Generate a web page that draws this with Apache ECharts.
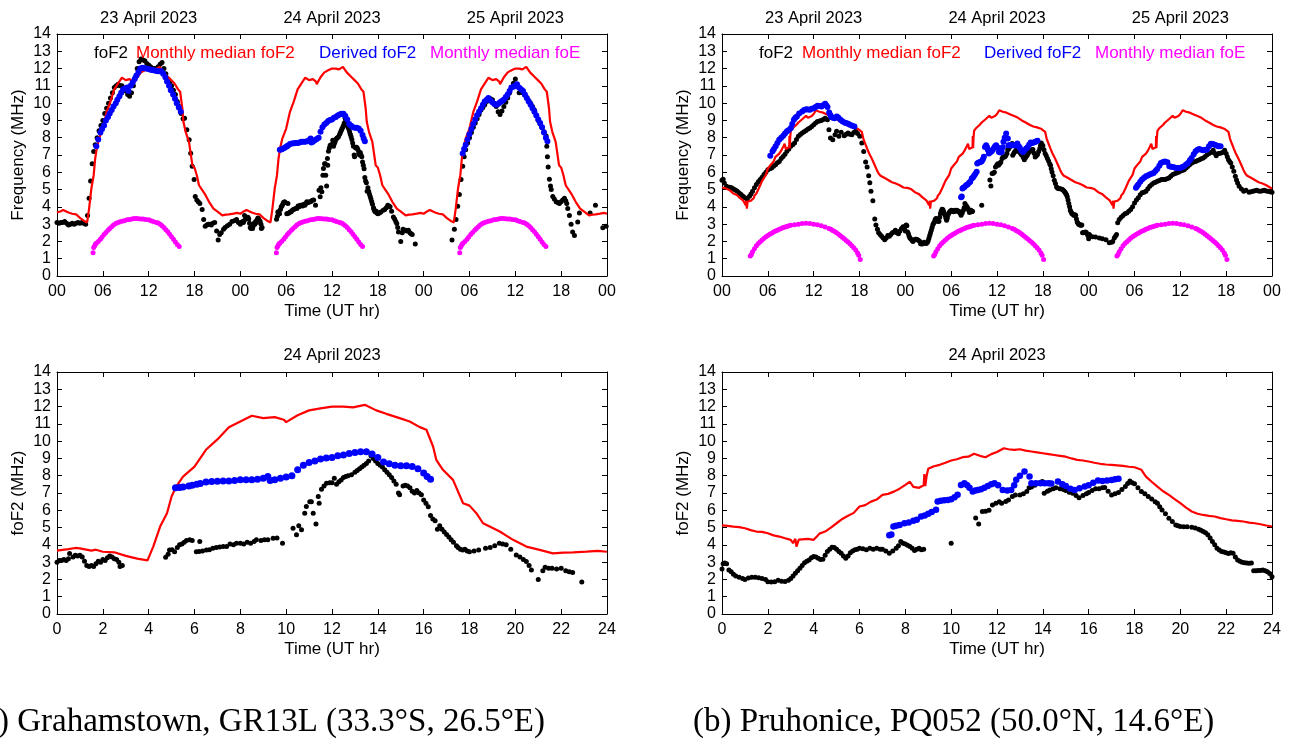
<!DOCTYPE html>
<html>
<head>
<meta charset="utf-8">
<script src="https://cdn.jsdelivr.net/npm/echarts@6/dist/echarts.min.js"></script>
<style>
html,body{margin:0;padding:0;background:#fff;}
#chart{width:1291px;height:742px;}
</style>
</head>
<body>
<div id="chart"></div>
<script>
// ---------------- DATA (hours UT, MHz) ----------------
const legendNames = ['foF2', 'Monthly median foF2', 'Derived foF2', 'Monthly median foE'];
const dayTitles = ['23 April 2023', '24 April 2023', '25 April 2023'];
const singleDayTitle = '24 April 2023';
const captions = ['(a) Grahamstown, GR13L (33.3°S, 26.5°E)', '(b) Pruhonice, PQ052 (50.0°N, 14.6°E)'];
const threeDayTicks = ['00', '06', '12', '18'];

// ---- Grahamstown GR13L ----
const grMedianFoF2 = [[0,3.67],[0.5,3.75],[0.8,3.82],[1,3.8],[1.5,3.67],[1.7,3.72],[2,3.6],[2.5,3.57],[3,3.36],[3.5,3.2],[3.95,3.1],[4.2,3.9],[4.5,5.06],[4.8,5.83],[5,6.8],[5.2,7.37],[5.5,7.95],[6,8.53],[6.5,9.5],[7,10.1],[7.5,10.8],[8,11.14],[8.5,11.47],[9,11.33],[9.5,11.39],[9.9,11.24],[10,11.1],[10.5,11.5],[11,11.78],[11.5,11.9],[12,12.0],[12.5,12.0],[12.92,11.95],[13.43,12.1],[13.93,11.78],[14.37,11.58],[14.95,11.33],[15.39,11.14],[15.83,10.81],[16.12,10.66],[16.41,9.69],[16.55,8.92],[16.84,8.34],[17.28,7.76],[17.72,6.41],[18.0,6.27],[18.3,5.83],[18.59,5.25],[18.88,5.06],[19.32,4.77],[19.9,4.29],[20.48,3.9],[21.06,3.71],[21.64,3.51],[22.1,3.55],[22.52,3.57],[23.1,3.61],[23.6,3.65],[24,3.6]];
const grFoE = [[4.72,1.35],[4.8,1.65],[4.93,1.75],[5.05,1.85],[5.15,1.9],[5.4,2.0],[5.68,2.12],[5.9,2.25],[6.16,2.4],[6.4,2.52],[6.68,2.65],[6.9,2.75],[7.16,2.85],[7.4,2.95],[7.69,3.03],[7.9,3.08],[8.17,3.12],[8.5,3.17],[8.8,3.2],[9.17,3.25],[9.5,3.27],[9.8,3.3],[10.1,3.32],[10.4,3.32],[10.7,3.31],[11.0,3.3],[11.3,3.3],[11.6,3.27],[12.0,3.25],[12.3,3.2],[12.6,3.15],[13.0,3.1],[13.25,3.06],[13.5,3.0],[13.75,2.9],[14.0,2.8],[14.25,2.68],[14.5,2.56],[14.75,2.42],[15.0,2.27],[15.25,2.12],[15.5,1.97],[15.75,1.82],[16.0,1.7]];
const grFoF2_23 = [[0,3.1],[0.25,3.05],[0.5,3.1],[0.75,3.1],[1,3.15],[1.25,3.05],[1.5,2.95],[1.75,3.0],[2,3.05],[2.25,3.0],[2.5,3.05],[2.75,3.1],[3,3.05],[3.25,3.1],[3.5,3.05],[3.75,3.0],[4,3.5],[4.2,4.5],[4.4,5.5],[4.6,6.5],[4.8,7.2],[5,7.6],[5.25,8.0],[5.5,8.4],[5.75,8.7],[6,9.0],[6.25,9.4],[6.5,9.7],[6.75,10.0],[7,10.3],[7.25,10.6],[7.5,10.9],[7.75,11.0],[8,11.1],[8.25,11.0],[8.5,11.0],[8.75,10.8],[9,10.7],[9.25,10.5],[9.5,10.4],[9.75,10.6],[10,11.0],[10.25,11.5],[10.5,12.0],[10.75,12.4],[11,12.55],[11.25,12.5],[11.5,12.45],[11.75,12.3],[12,12.2],[12.25,12.1],[12.5,12.0],[12.75,12.0],[13,12.0],[13.25,12.1],[13.5,12.25],[13.75,12.35],[14,12.0],[14.25,11.7],[14.5,11.4],[14.75,11.2],[15,11.0],[15.25,10.75],[15.5,10.5],[15.75,10.1],[16,9.8],[16.25,9.4],[16.5,9.1],[16.7,9.13],[17.0,8.46],[17.3,7.88],[17.5,7.1],[17.7,6.35],[17.95,5.58],[18.1,4.6],[18.3,4.4],[18.5,4.3],[18.7,4.2],[19.0,3.85],[19.2,3.27],[19.4,2.88],[19.6,2.95],[19.8,3.0],[20.0,3.0],[20.2,2.95],[20.4,3.05],[20.65,3.1],[20.9,2.6],[21.1,2.08],[21.3,2.4],[21.5,2.5],[21.8,2.7],[22.0,2.8],[22.3,2.9],[22.6,3.0],[22.9,3.15],[23.2,3.2],[23.5,3.27],[23.75,3.1]];
const grFoF2_24 = [[0,3.0],[0.1,3.1],[0.2,3.1],[0.3,3.15],[0.4,3.1],[0.5,3.2],[0.55,3.5],[0.7,3.3],[0.8,3.4],[0.9,3.35],[1.0,3.4],[1.1,3.3],[1.2,3.05],[1.3,2.8],[1.4,2.75],[1.5,2.8],[1.6,2.75],[1.7,2.9],[1.8,3.05],[1.9,3.0],[2.0,3.15],[2.1,3.1],[2.2,3.25],[2.3,3.35],[2.4,3.3],[2.5,3.2],[2.6,3.15],[2.7,3.0],[2.75,2.75],[2.85,2.8],[4.74,3.28],[4.85,3.45],[4.91,3.7],[5.02,3.72],[5.13,3.6],[5.25,3.85],[5.35,4.0],[5.45,4.05],[5.55,4.15],[5.65,4.25],[5.79,4.29],[5.9,4.25],[6.23,4.19],[6.08,3.6],[6.2,3.62],[6.35,3.65],[6.52,3.7],[6.65,3.72],[6.8,3.8],[6.95,3.85],[7.1,3.88],[7.25,3.9],[7.4,3.9],[7.55,4.05],[7.7,4.0],[7.83,4.1],[8.0,4.1],[8.15,4.05],[8.3,4.15],[8.45,4.1],[8.6,4.2],[8.7,4.29],[8.9,4.25],[9.05,4.3],[9.2,4.3],[9.43,4.38],[9.6,4.4],[9.84,4.09],[10.3,4.96],[10.45,4.58],[10.55,5.1],[10.67,4.87],[10.81,5.83],[10.88,6.22],[11.03,6.5],[11.1,6.5],[11.18,5.83],[11.3,5.21],[11.4,6.8],[11.44,6.41],[11.54,7.22],[11.65,7.4],[11.76,7.57],[11.9,7.6],[12.0,7.6],[12.1,7.85],[12.2,7.5],[12.3,7.65],[12.4,7.75],[12.5,7.9],[12.6,7.95],[12.7,8.0],[12.85,8.05],[13.0,8.2],[13.1,8.3],[13.2,8.4],[13.3,8.5],[13.4,8.6],[13.5,8.7],[13.6,8.85],[13.7,9.15],[13.8,9.0],[13.9,8.85],[14.0,8.7],[14.1,8.6],[14.2,8.5],[14.3,8.35],[14.4,8.2],[14.5,8.05],[14.6,7.9],[14.7,7.7],[14.8,7.5],[14.9,7.0],[14.95,6.9],[15.1,7.4],[15.2,7.45],[15.3,7.4],[15.4,7.3],[15.5,7.1],[15.6,7.0],[15.7,7.15],[15.8,7.0],[15.9,6.9],[16.0,6.6],[16.1,6.4],[16.2,6.2],[16.3,5.7],[16.4,5.5],[16.5,5.4],[16.6,4.9],[16.7,5.1],[16.8,4.9],[16.9,4.75],[17.0,4.6],[17.1,4.45],[17.2,4.3],[17.3,4.15],[17.43,3.95],[17.5,3.85],[17.6,3.75],[17.7,3.7],[17.8,3.75],[17.9,3.65],[18.0,3.6],[18.2,3.65],[18.4,3.7],[18.7,3.8],[18.9,3.85],[19.1,3.95],[19.3,4.1],[19.45,4.05],[19.6,4.0],[19.8,3.75],[20.04,3.42],[20.2,3.3],[20.35,3.15],[20.48,3.03],[20.6,2.8],[20.7,2.55],[21.0,2.0],[21.2,2.5],[21.3,2.7],[21.45,2.65],[21.6,2.65],[21.8,2.6],[22.0,2.65],[22.2,2.5],[22.35,2.45],[22.5,2.4],[22.9,1.85]];
const grFoF2_25 = [[3.71,2.08],[4.02,2.7],[4.24,3.27],[4.45,4.04],[4.67,4.71],[4.89,5.58],[5.11,6.35],[5.3,6.9],[5.5,7.3],[5.75,7.7],[6.0,8.0],[6.25,8.3],[6.5,8.6],[6.75,8.85],[7.0,9.1],[7.25,9.35],[7.5,9.6],[7.75,9.75],[8.0,9.9],[8.25,10.1],[8.5,10.2],[8.75,10.25],[9.0,10.2],[9.25,10.0],[9.5,9.8],[9.75,9.5],[10.0,9.35],[10.25,9.55],[10.5,9.8],[10.75,10.05],[11.0,10.3],[11.25,10.6],[11.5,10.9],[11.75,11.15],[12.0,11.4],[12.25,11.1],[12.5,10.6],[12.75,10.65],[13.0,10.6],[13.25,10.45],[13.5,10.3],[13.75,10.15],[14.0,10.0],[14.25,9.8],[14.5,9.6],[14.75,9.3],[15.0,9.0],[15.25,8.8],[15.5,8.6],[15.75,8.35],[16.03,8.1],[16.12,7.5],[16.2,6.9],[16.3,6.3],[16.46,5.6],[16.6,5.2],[16.7,5.0],[16.9,4.6],[17.1,4.45],[17.34,4.3],[17.55,4.25],[17.77,4.2],[17.99,4.3],[18.2,4.4],[18.43,4.5],[18.6,4.35],[18.73,4.2],[18.86,3.9],[19.08,3.5],[19.3,3.0],[19.5,2.55],[19.74,2.35],[20.17,3.12],[20.39,3.65],[21.79,3.65],[22.49,4.1],[23.45,2.79],[23.89,2.88]];
const grDerived_23 = [[5.15,7.5],[5.4,7.9],[5.68,8.3],[5.9,8.5],[6.16,8.7],[6.4,9.0],[6.68,9.2],[6.9,9.4],[7.16,9.6],[7.4,9.8],[7.69,10.0],[7.9,10.2],[8.17,10.4],[8.4,10.6],[8.65,10.8],[8.9,10.85],[9.17,10.9],[9.35,10.7],[9.65,11.0],[9.9,11.2],[10.17,11.4],[10.4,11.6],[10.66,11.8],[10.9,12.0],[11.18,12.05],[11.45,12.02],[11.7,12.0],[11.95,11.97],[12.18,11.95],[12.4,11.92],[12.66,11.9],[12.9,11.87],[13.19,11.85],[13.45,11.85],[13.67,11.85],[13.9,11.7],[14.19,11.5],[14.4,11.25],[14.67,11.0],[14.9,10.75],[15.2,10.5],[15.45,10.25],[15.68,10.0],[15.95,9.75],[16.2,9.5]];
const grDerived_24 = [[5.17,7.3],[5.35,7.32],[5.5,7.35],[5.75,7.4],[5.9,7.45],[6.1,7.5],[6.25,7.55],[6.5,7.64],[6.75,7.67],[7,7.68],[7.25,7.7],[7.5,7.7],[7.75,7.72],[8,7.76],[8.25,7.76],[8.5,7.76],[8.75,7.8],[9,7.86],[9.2,7.95],[9.3,7.72],[9.5,7.76],[9.75,7.85],[10,7.92],[10.25,8.0],[10.5,8.35],[10.75,8.6],[11,8.76],[11.25,8.85],[11.5,8.96],[11.75,9.03],[12,9.05],[12.25,9.15],[12.5,9.2],[12.75,9.28],[13,9.34],[13.25,9.38],[13.5,9.38],[13.75,9.25],[14,9.05],[14.25,8.8],[14.5,8.69],[14.75,8.6],[15,8.57],[15.25,8.57],[15.5,8.53],[15.75,8.4],[16,8.15],[16.15,7.95],[16.3,7.8]];
const grDerived_25 = [[5.11,7.08],[5.3,7.35],[5.5,7.6],[5.75,7.9],[5.98,8.2],[6.25,8.5],[6.5,8.8],[6.75,9.05],[6.99,9.3],[7.25,9.5],[7.51,9.7],[7.75,9.9],[7.99,10.1],[8.25,10.2],[8.47,10.3],[8.75,10.15],[9.0,10.05],[9.25,9.95],[9.48,9.9],[9.75,9.95],[10.0,10.05],[10.25,10.12],[10.48,10.2],[10.75,10.35],[11.0,10.5],[11.25,10.7],[11.48,10.9],[11.75,10.95],[12.0,11.0],[12.2,11.1],[12.49,10.9],[12.75,10.8],[13.01,10.7],[13.25,10.5],[13.5,10.3],[13.75,10.1],[14.0,9.9],[14.25,9.7],[14.5,9.5],[14.75,9.28],[15.0,9.05],[15.25,8.85],[15.5,8.6],[15.75,8.3],[16.0,8.0],[16.2,7.8]];

// ---- Pruhonice PQ052 ----
const pqMedianFoF2 = [[0,5.13],[0.25,5.1],[0.5,5.06],[0.75,5.03],[1,4.96],[1.25,4.85],[1.5,4.77],[1.75,4.75],[2,4.67],[2.25,4.55],[2.5,4.48],[2.75,4.38],[3,4.29],[3.1,4.1],[3.2,4.35],[3.25,3.9],[3.35,4.3],[3.5,4.32],[3.75,4.35],[4,4.29],[4.15,4.5],[4.25,4.65],[4.5,4.77],[4.75,5.0],[5,5.25],[5.25,5.5],[5.5,5.68],[5.75,5.85],[6,6.22],[6.25,6.3],[6.5,6.5],[6.75,6.62],[7,6.89],[7.25,6.95],[7.5,7.08],[7.75,7.25],[8,7.47],[8.2,7.65],[8.35,7.35],[8.6,7.3],[8.8,7.45],[8.83,8.1],[8.87,7.4],[8.93,8.0],[9,8.4],[9.25,8.55],[9.5,8.63],[9.75,8.75],[10,8.88],[10.25,8.95],[10.5,9.07],[10.75,9.1],[11,9.27],[11.25,9.15],[11.5,9.07],[11.75,9.25],[12,9.37],[12.3,9.59],[12.5,9.53],[12.75,9.5],[13,9.53],[13.25,9.45],[13.5,9.4],[13.75,9.35],[14,9.3],[14.25,9.25],[14.5,9.2],[14.75,9.15],[15,9.1],[15.25,9.0],[15.5,8.92],[15.75,8.88],[16,8.82],[16.25,8.75],[16.5,8.69],[16.75,8.65],[17,8.63],[17.25,8.6],[17.5,8.57],[17.75,8.52],[18,8.49],[18.3,8.34],[18.5,7.95],[18.75,7.65],[19,7.37],[19.25,7.1],[19.5,6.89],[19.75,6.65],[20,6.41],[20.25,6.15],[20.5,5.93],[20.75,5.8],[21,5.73],[21.25,5.68],[21.5,5.64],[21.75,5.55],[22,5.48],[22.25,5.42],[22.5,5.39],[22.75,5.35],[23,5.29],[23.25,5.25],[23.5,5.19],[23.75,5.12],[24,5.06]];
const pqFoE = [[3.7,1.15],[3.85,1.25],[4.0,1.4],[4.25,1.58],[4.5,1.75],[4.75,1.88],[5.0,1.98],[5.25,2.08],[5.5,2.18],[5.75,2.27],[6.0,2.35],[6.25,2.42],[6.5,2.48],[6.75,2.54],[7.0,2.6],[7.25,2.65],[7.5,2.7],[7.75,2.75],[8.0,2.8],[8.25,2.84],[8.5,2.87],[8.75,2.9],[9.0,2.93],[9.5,2.97],[10.0,3.0],[10.5,3.03],[11.0,3.05],[11.5,3.03],[12.0,3.0],[12.5,2.96],[13.0,2.9],[13.5,2.83],[14.0,2.75],[14.25,2.7],[14.5,2.63],[14.75,2.57],[15.0,2.5],[15.25,2.42],[15.5,2.33],[15.75,2.24],[16.0,2.15],[16.25,2.06],[16.5,1.96],[16.75,1.86],[17.0,1.75],[17.25,1.63],[17.5,1.5],[17.75,1.33],[17.9,1.2],[18.1,0.95]];
const pqFoF2_23 = [[0,5.54],[0.15,5.6],[0.3,5.38],[0.6,5.19],[1,5.13],[1.25,5.1],[1.5,5.04],[1.75,4.97],[2,4.9],[2.25,4.8],[2.5,4.71],[2.75,4.62],[3,4.52],[3.3,4.42],[3.6,4.62],[3.8,4.75],[4,4.9],[4.25,5.1],[4.5,5.29],[4.75,5.45],[5,5.58],[5.25,5.72],[5.5,5.87],[5.75,6.0],[6,6.15],[6.25,6.2],[6.5,6.25],[6.75,6.35],[7,6.44],[7.25,6.55],[7.5,6.63],[7.75,6.8],[8,6.92],[8.25,7.05],[8.5,7.21],[8.75,7.35],[9,7.5],[9.25,7.6],[9.5,7.69],[9.75,7.9],[10,8.08],[10.25,8.18],[10.5,8.27],[10.75,8.35],[11,8.42],[11.25,8.5],[11.5,8.56],[11.75,8.65],[12,8.75],[12.25,8.85],[12.5,8.94],[12.75,8.97],[13,9.0],[13.25,9.05],[13.5,9.13],[13.8,9.04],[14,8.46],[14.2,7.98],[14.5,7.88],[14.8,8.17],[15,8.37],[15.3,8.08],[15.6,8.31],[16,8.12],[16.25,8.2],[16.5,8.27],[16.75,8.2],[17,8.17],[17.25,8.3],[17.5,8.37],[17.75,8.25],[18.04,8.08],[18.3,7.7],[18.55,7.2],[18.8,6.6],[19.0,6.3],[19.2,5.8],[19.35,5.4],[19.5,4.9],[19.75,4.35],[20.0,3.3],[20.15,2.95],[20.35,2.7],[20.5,2.5],[20.7,2.4],[20.9,2.3],[21.1,2.2],[21.3,2.1],[21.5,2.2],[21.7,2.35],[21.9,2.3],[22.1,2.4],[22.3,2.5],[22.5,2.55],[22.7,2.65],[22.9,2.5],[23.1,2.45],[23.3,2.6],[23.5,2.75],[23.7,2.85],[23.9,2.8]];
const pqFoF2_24 = [[0,2.6],[0.05,2.9],[0.12,2.95],[0.2,2.9],[0.3,2.55],[0.4,2.45],[0.5,2.3],[0.6,2.2],[0.75,2.12],[0.9,2.05],[1,2.0],[1.15,2.08],[1.3,2.12],[1.45,2.12],[1.6,2.1],[1.75,2.05],[1.9,2.0],[2,1.87],[2.15,1.85],[2.3,1.87],[2.45,1.95],[2.6,1.9],[2.75,1.88],[2.9,1.95],[3,2.05],[3.1,2.2],[3.2,2.36],[3.3,2.5],[3.4,2.64],[3.5,2.8],[3.6,2.97],[3.7,3.05],[3.8,3.13],[3.9,3.25],[4,3.32],[4.1,3.3],[4.2,3.22],[4.3,3.15],[4.4,3.17],[4.5,3.4],[4.6,3.61],[4.7,3.75],[4.8,3.86],[4.9,3.85],[5,3.75],[5.1,3.62],[5.2,3.51],[5.3,3.35],[5.4,3.22],[5.5,3.35],[5.6,3.55],[5.7,3.65],[5.8,3.71],[5.9,3.75],[6,3.8],[6.15,3.78],[6.3,3.72],[6.45,3.8],[6.6,3.75],[6.75,3.8],[6.9,3.75],[7,3.75],[7.15,3.65],[7.3,3.51],[7.45,3.65],[7.6,3.8],[7.7,3.95],[7.8,4.19],[7.9,4.1],[8,4.05],[8.1,3.98],[8.2,3.9],[8.3,3.8],[8.4,3.67],[8.5,3.75],[8.6,3.8],[8.7,3.72],[8.8,3.75],[10,4.09],[11.07,5.55],[11.2,5.21],[11.36,5.93],[11.5,5.95],[11.65,6.0],[11.8,6.31],[11.95,6.4],[12.1,6.5],[12.2,6.41],[12.38,6.51],[12.5,6.6],[12.67,6.8],[12.8,6.89],[13,6.89],[13.15,6.95],[13.3,7.08],[13.4,7.3],[13.5,7.34],[13.65,7.45],[13.8,7.57],[13.9,7.62],[13.98,7.67],[14.06,6.99],[14.2,7.1],[14.3,7.18],[14.45,7.25],[14.57,7.3],[14.75,7.25],[14.9,7.2],[15,7.14],[15.15,7.05],[15.3,6.99],[15.45,6.85],[15.58,6.72],[15.75,6.85],[15.9,6.95],[16,7.03],[16.15,7.15],[16.3,7.25],[16.45,7.25],[16.6,7.3],[16.7,7.32],[16.85,7.1],[17,6.89],[17.15,6.95],[17.3,7.03],[17.45,7.2],[17.6,7.37],[17.7,7.55],[17.8,7.7],[17.9,7.6],[18,7.53],[18.15,7.3],[18.3,7.08],[18.45,6.95],[18.6,6.8],[18.75,6.65],[18.9,6.5],[19,6.41],[19.1,6.2],[19.2,6.02],[19.35,5.8],[19.5,5.54],[19.65,5.35],[19.8,5.15],[19.9,5.1],[20,5.06],[20.15,5.05],[20.3,5.05],[20.5,5.02],[20.65,4.98],[20.8,4.9],[20.9,4.85],[21,4.77],[21.1,4.7],[21.2,4.58],[21.3,4.4],[21.4,4.19],[21.5,4.0],[21.6,3.8],[21.7,3.7],[21.8,3.62],[21.9,3.58],[22,3.55],[22.1,3.5],[22.2,3.55],[22.3,3.51],[22.4,3.3],[22.5,3.13],[22.6,3.05],[22.7,3.0],[22.8,2.97],[22.9,2.95],[23,2.93],[23.1,2.95],[23.2,2.5],[23.3,2.5],[23.4,2.52],[23.5,2.51],[23.6,2.55],[23.7,2.5],[23.8,2.45],[23.9,2.35],[24,2.16]];
const pqFoF2_25 = [[0.1,2.4],[0.5,2.27],[0.9,2.25],[1.4,2.2],[1.8,2.15],[2.27,2.1],[2.7,1.92],[3.0,1.95],[3.15,2.0],[3.35,2.2],[3.5,2.3],[3.65,2.4],[3.8,3.08],[4,3.27],[4.25,3.4],[4.5,3.5],[4.75,3.6],[5,3.65],[5.25,3.75],[5.5,3.85],[5.75,4.0],[6,4.23],[6.25,4.4],[6.5,4.52],[6.75,4.7],[7,4.81],[7.25,4.85],[7.5,4.9],[7.75,5.05],[8,5.19],[8.25,5.3],[8.5,5.38],[8.75,5.43],[9,5.48],[9.25,5.52],[9.5,5.58],[9.75,5.58],[10,5.58],[10.25,5.62],[10.5,5.67],[10.75,5.77],[11,5.87],[11.25,5.92],[11.5,5.96],[11.75,6.0],[12,6.06],[12.25,6.1],[12.5,6.15],[12.75,6.25],[13,6.35],[13.25,6.45],[13.5,6.54],[13.75,6.6],[14,6.63],[14.25,6.68],[14.5,6.73],[14.75,6.78],[15,6.83],[15.25,6.92],[15.5,7.02],[15.75,7.08],[16,7.15],[16.3,7.27],[16.5,7.1],[16.7,6.96],[17,7.08],[17.25,7.1],[17.5,7.15],[17.8,7.27],[18,7.08],[18.15,6.9],[18.3,6.73],[18.45,6.62],[18.6,6.54],[18.8,6.3],[19,6.06],[19.2,5.77],[19.35,5.55],[19.5,5.38],[19.7,5.19],[20,5.04],[20.3,4.9],[20.6,4.96],[21,4.85],[21.25,4.88],[21.5,4.9],[21.75,4.93],[22,4.96],[22.25,4.92],[22.5,4.9],[22.75,4.93],[23,4.96],[23.25,4.92],[23.5,4.9],[23.75,4.88],[24,4.85]];
const pqDerived_23 = [[6.32,6.96],[6.62,7.21],[6.8,7.35],[7.02,7.5],[7.25,7.7],[7.49,7.88],[7.75,8.0],[8.02,8.12],[8.25,8.25],[8.5,8.37],[8.75,8.45],[9.02,8.56],[9.2,8.8],[9.41,9.04],[9.6,9.15],[9.8,9.23],[10.1,9.4],[10.5,9.52],[10.75,9.6],[11.02,9.65],[11.25,9.63],[11.5,9.62],[11.75,9.68],[12.03,9.71],[12.25,9.78],[12.5,9.85],[12.75,9.83],[13.03,9.81],[13.25,9.88],[13.5,9.96],[13.65,9.88],[13.81,9.77],[14.03,9.46],[14.2,9.3],[14.34,9.19],[14.55,9.15],[14.73,9.13],[15.03,9.23],[15.25,9.15],[15.51,9.04],[15.75,8.95],[16.03,8.88],[16.25,8.85],[16.51,8.81],[16.75,8.75],[17.04,8.69],[17.34,8.65]];
const pqDerived_24 = [[7.3,4.56],[7.39,4.6],[7.48,5.06],[7.6,5.1],[7.75,5.15],[7.96,5.25],[8.15,5.3],[8.35,5.4],[8.5,5.45],[8.69,5.64],[8.85,5.7],[9.0,5.8],[9.15,5.9],[9.34,6.03],[9.41,6.51],[9.55,6.55],[9.7,6.58],[9.85,6.6],[10.0,6.64],[10.15,6.75],[10.28,6.9],[10.43,7.47],[10.58,7.57],[10.7,7.45],[10.8,7.3],[10.94,7.09],[11.05,7.15],[11.16,7.18],[11.3,7.22],[11.45,7.3],[11.6,7.4],[11.75,7.5],[11.89,7.57],[12.05,7.45],[12.25,7.18],[12.45,7.15],[12.62,7.18],[12.75,7.45],[12.84,7.76],[13.0,8.0],[13.2,8.24],[13.42,7.95],[13.5,7.57],[13.7,7.57],[13.9,7.57],[14.08,7.57],[14.25,7.57],[14.37,7.55],[14.66,7.67],[14.85,7.5],[15.0,7.4],[15.2,7.25],[15.39,7.18],[15.6,7.28],[15.83,7.37],[16.0,7.45],[16.2,7.6],[16.41,7.72],[16.6,7.7],[16.8,7.72],[17.0,7.75],[17.15,7.8],[17.3,7.82]];
const pqDerived_25 = [[6.19,5.1],[6.35,5.2],[6.5,5.29],[6.75,5.45],[6.98,5.58],[7.25,5.68],[7.5,5.77],[7.75,5.82],[7.98,5.87],[8.25,5.92],[8.5,5.96],[8.75,6.08],[8.98,6.19],[9.25,6.38],[9.46,6.54],[9.75,6.6],[9.99,6.63],[10.3,6.58],[10.56,6.35],[10.8,6.32],[11.0,6.31],[11.25,6.28],[11.47,6.25],[11.75,6.25],[11.99,6.25],[12.25,6.3],[12.47,6.35],[12.75,6.45],[13.0,6.54],[13.25,6.7],[13.48,6.83],[13.75,7.05],[14.0,7.21],[14.25,7.3],[14.48,7.35],[14.75,7.3],[15.0,7.27],[15.25,7.3],[15.48,7.31],[15.75,7.5],[16.0,7.65],[16.25,7.63],[16.49,7.6],[16.75,7.55],[17.0,7.5],[17.27,7.5]];

// ---------------- BUILD ----------------
const SANS = '"Liberation Sans", Arial, Helvetica, sans-serif';
const SERIF = '"Liberation Serif", "Times New Roman", serif';
const C_BLACK = '#000000', C_RED = '#ff0000', C_BLUE = '#0000ff', C_MAG = '#ff00ff';

function shift(arr, dh) { return arr.map(p => [p[0] + dh, p[1]]); }
function threeDays(a, b, c) { return shift(a, 0).concat(shift(b, 24), shift(c, 48)); }

const grids = [
  {left: 57, top: 34, width: 550, height: 242},
  {left: 722, top: 34, width: 550, height: 242},
  {left: 57, top: 372, width: 550, height: 242},
  {left: 722, top: 372, width: 550, height: 242}
];

const xAxes = [], yAxes = [];
grids.forEach((g, i) => {
  const three = i < 2;
  const base = {
    type: 'value', gridIndex: i, min: 0, max: three ? 72 : 24, interval: three ? 6 : 2,
    axisLine: {show: true, onZero: false, lineStyle: {color: '#000', width: 1}},
    axisTick: {show: true, inside: true, length: 5, lineStyle: {color: '#000', width: 1}},
    splitLine: {show: false}
  };
  xAxes.push(Object.assign({}, base, {
    position: 'bottom',
    name: 'Time (UT hr)', nameLocation: 'middle', nameGap: 27,
    nameTextStyle: {fontFamily: SANS, fontSize: 17, color: '#000'},
    axisLabel: {show: true, margin: 8, fontFamily: SANS, fontSize: 16, color: '#000',
      formatter: three ? (v => threeDayTicks[(Math.round(v) % 24) / 6]) : (v => String(v))}
  }));
  xAxes.push(Object.assign({}, base, {position: 'top', axisLabel: {show: false}}));
  const ybase = {
    type: 'value', gridIndex: i, min: 0, max: 14, interval: 1,
    axisLine: {show: true, onZero: false, lineStyle: {color: '#000', width: 1}},
    axisTick: {show: true, inside: true, length: 5, lineStyle: {color: '#000', width: 1}},
    splitLine: {show: false}
  };
  yAxes.push(Object.assign({}, ybase, {
    position: 'left',
    name: three ? 'Frequency (MHz)' : 'foF2 (MHz)', nameLocation: 'middle', nameGap: 30,
    nameTextStyle: {fontFamily: SANS, fontSize: 17, color: '#000'},
    axisLabel: {show: true, margin: 6, fontFamily: SANS, fontSize: 16, color: '#000'}
  }));
  yAxes.push(Object.assign({}, ybase, {position: 'right', axisLabel: {show: false}}));
});

function scatter(name, data, gi, color, size, z) {
  return {type: 'scatter', name, data, xAxisIndex: 2 * gi, yAxisIndex: 2 * gi,
    symbol: 'circle', symbolSize: size, itemStyle: {color, opacity: 1}, z, silent: true};
}
function line(name, data, gi, color, z) {
  return {type: 'line', name, data, xAxisIndex: 2 * gi, yAxisIndex: 2 * gi, showSymbol: false, symbol: 'none',
    lineStyle: {color, width: 2.2}, itemStyle: {color}, z, silent: true};
}

const stations = [
  {fo: [grFoF2_23, grFoF2_24, grFoF2_25], med: grMedianFoF2, der: [grDerived_23, grDerived_24, grDerived_25], foE: grFoE},
  {fo: [pqFoF2_23, pqFoF2_24, pqFoF2_25], med: pqMedianFoF2, der: [pqDerived_23, pqDerived_24, pqDerived_25], foE: pqFoE}
];

const series = [];
stations.forEach((s, k) => {
  // three-day panel (grid k)
  series.push(scatter(legendNames[0], threeDays(s.fo[0], s.fo[1], s.fo[2]), k, C_BLACK, 5, 2));
  series.push(line(legendNames[1], threeDays(s.med, s.med, s.med), k, C_RED, 3));
  series.push(scatter(legendNames[2], threeDays(s.der[0], s.der[1], s.der[2]), k, C_BLUE, 6, 4));
  series.push(scatter(legendNames[3], threeDays(s.foE, s.foE, s.foE), k, C_MAG, 5, 4));
  // single-day panel (grid k+2)
  series.push(scatter(legendNames[0], s.fo[1], k + 2, C_BLACK, 5, 2));
  series.push(line(legendNames[1], s.med, k + 2, C_RED, 3));
  series.push(scatter(legendNames[2], s.der[1], k + 2, C_BLUE, k === 0 ? 7 : 6.5, 4));
});

// legends: text-only, coloured like their series
const legendColors = [C_BLACK, C_RED, C_BLUE, C_MAG];
const legendX = [[94, 136, 319, 430], [759, 802, 984, 1095]];
const legends = [];
legendX.forEach(row => row.forEach((x, j) => {
  legends.push({
    data: [{name: legendNames[j], icon: 'none', textStyle: {color: legendColors[j]}}],
    left: x - 5, top: 45, itemWidth: 0, itemHeight: 0, itemGap: 0, padding: 0,
    selectedMode: false, textStyle: {fontFamily: SANS, fontSize: 17}
  });
}));

// titles
const titles = [];
[0, 1].forEach(k => {
  const g = grids[k];
  dayTitles.forEach((t, d) => {
    titles.push({text: t, left: g.left + (12 + 24 * d) / 72 * g.width, top: 10, textAlign: 'center', padding: 0,
      textStyle: {fontFamily: SANS, fontSize: 16.5, fontWeight: 'normal', color: '#000'}});
  });
  const g2 = grids[k + 2];
  titles.push({text: singleDayTitle, left: g2.left + g2.width / 2, top: 347, textAlign: 'center', padding: 0,
    textStyle: {fontFamily: SANS, fontSize: 16.5, fontWeight: 'normal', color: '#000'}});
});
titles.push({text: captions[0], left: 545, top: 706, textAlign: 'right', padding: 0,
  textStyle: {fontFamily: SERIF, fontSize: 33, fontWeight: 'normal', color: '#000'}});
titles.push({text: captions[1], left: 693, top: 706, textAlign: 'left', padding: 0,
  textStyle: {fontFamily: SERIF, fontSize: 33, fontWeight: 'normal', color: '#000'}});

const chart = echarts.init(document.getElementById('chart'), null, {renderer: 'canvas'});
chart.setOption({
  backgroundColor: '#fff',
  animation: false,
  title: titles,
  legend: legends,
  grid: grids.map(g => Object.assign({containLabel: false, show: false}, g)),
  xAxis: xAxes,
  yAxis: yAxes,
  series: series
});
</script>
</body>
</html>
